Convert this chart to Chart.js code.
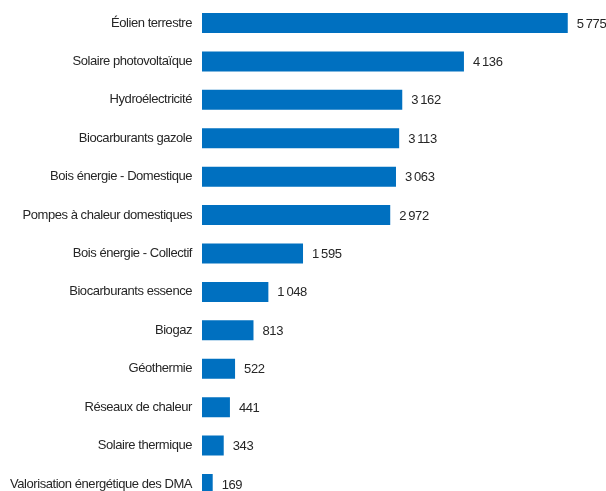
<!DOCTYPE html>
<html><head><meta charset="utf-8">
<script src="https://cdn.jsdelivr.net/npm/chart.js@4/dist/chart.umd.min.js"></script>
<style>
html,body{margin:0;padding:0;background:#fff;overflow:hidden;}
#wrap{width:606px;height:491px;position:relative;overflow:hidden;}
#c{position:absolute;left:0;top:-14px;}
</style></head>
<body>
<div id="wrap"><canvas id="c" width="606" height="535"></canvas></div>
<script>
const categories = ["Éolien terrestre","Solaire photovoltaïque","Hydroélectricité","Biocarburants gazole","Bois énergie - Domestique","Pompes à chaleur domestiques","Bois énergie - Collectif","Biocarburants essence","Biogaz","Géothermie","Réseaux de chaleur","Solaire thermique","Valorisation énergétique des DMA"];
const values = [5775,4136,3162,3113,3063,2972,1595,1048,813,522,441,343,169];

const FONT = "'Liberation Sans',Arial,sans-serif";
const fmt = v => String(v).replace(/\B(?=(\d{3})+(?!\d))/g, "\u2009");

const spacingPlugin = {
  id: 'spacing',
  beforeDraw(chart){ chart.ctx.letterSpacing = '-0.45px'; }
};

const labelPlugin = {
  id: 'vals',
  afterDatasetsDraw(chart){
    const ctx = chart.ctx;
    const meta = chart.getDatasetMeta(0);
    ctx.save();
    ctx.letterSpacing = '-0.4px';
    ctx.font = "13px " + FONT;
    ctx.fillStyle = "#262626";
    ctx.textBaseline = "middle";
    ctx.textAlign = "left";
    meta.data.forEach((bar,i)=>{
      ctx.fillText(fmt(values[i]), bar.x + 9, bar.y + 1);
    });
    ctx.restore();
  }
};

new Chart(document.getElementById('c'), {
  type: 'bar',
  data: { labels: categories, datasets: [{ data: values, backgroundColor: '#0070C0', barPercentage: 0.52, categoryPercentage: 1 }] },
  options: {
    indexAxis: 'y',
    responsive: false,
    animation: false,
    layout: { padding: { top: 3, right: 24, bottom: 1, left: 0 } },
    plugins: { legend: { display: false }, tooltip: { enabled: false } },
    scales: {
      x: { display: false, min: 0, max: 6000 },
      y: {
        grid: { display: false, drawTicks: false },
        border: { display: false },
        ticks: { color: '#262626', padding: 10, font: { family: FONT, size: 13 } },
        afterFit(s){ s.width = 202; }
      }
    }
  },
  plugins: [spacingPlugin, labelPlugin]
});
</script>
</body></html>
